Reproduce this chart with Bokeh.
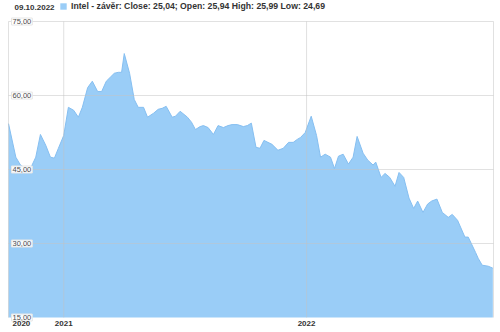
import pandas as pd
from bokeh.plotting import figure
from bokeh.models import ColumnDataSource, Range1d, Label, Legend, LegendItem
from bokeh.embed import file_html
from bokeh.resources import INLINE

# ---- data ----
dates = [
    "2020-10-10", "2020-10-21", "2020-10-28", "2020-11-05", "2020-11-12", "2020-11-20",
    "2020-11-27", "2020-12-05", "2020-12-12", "2020-12-18", "2020-12-24", "2021-01-01",
    "2021-01-08", "2021-01-16", "2021-01-23", "2021-01-29", "2021-02-06", "2021-02-13",
    "2021-02-21", "2021-02-27", "2021-03-06", "2021-03-12", "2021-03-18", "2021-03-24",
    "2021-03-29", "2021-04-02", "2021-04-10", "2021-04-17", "2021-04-23", "2021-05-01",
    "2021-05-07", "2021-05-16", "2021-05-23", "2021-05-29", "2021-06-04", "2021-06-13",
    "2021-06-18", "2021-06-25", "2021-07-06", "2021-07-12", "2021-07-18", "2021-07-25",
    "2021-07-30", "2021-08-06", "2021-08-14", "2021-08-21", "2021-08-29", "2021-09-05",
    "2021-09-11", "2021-09-19", "2021-09-28", "2021-10-04", "2021-10-10", "2021-10-17",
    "2021-10-23", "2021-10-29", "2021-11-04", "2021-11-10", "2021-11-19", "2021-11-27",
    "2021-12-05", "2021-12-12", "2021-12-18", "2021-12-23", "2021-12-30", "2022-01-08",
    "2022-01-16", "2022-01-22", "2022-01-29", "2022-02-06", "2022-02-12", "2022-02-18",
    "2022-02-25", "2022-03-05", "2022-03-12", "2022-03-18", "2022-03-27", "2022-04-03",
    "2022-04-11", "2022-04-15", "2022-04-23", "2022-04-29", "2022-05-06", "2022-05-14",
    "2022-05-20", "2022-05-27", "2022-06-04", "2022-06-11", "2022-06-17", "2022-06-25",
    "2022-07-02", "2022-07-08", "2022-07-16", "2022-07-24", "2022-08-02", "2022-08-08",
    "2022-08-16", "2022-08-27", "2022-09-01", "2022-09-12", "2022-09-16", "2022-09-22",
    "2022-10-01", "2022-10-08",
]
close = [
    54.3, 47.5, 45.9, 45.2, 45.2, 47.5,
    52.1, 49.9, 47.5, 47.3, 49.3, 51.9,
    57.6, 57.0, 55.6, 57.6, 61.6, 62.9,
    60.8, 60.8, 62.9, 63.7, 64.5, 64.7,
    64.7, 68.5, 64.5, 59.2, 57.6, 57.6,
    55.6, 56.4, 57.2, 57.4, 57.8, 55.6,
    55.8, 56.8, 55.6, 54.6, 53.1, 53.7,
    53.9, 53.5, 52.1, 53.9, 53.5, 53.9,
    54.1, 54.1, 53.7, 53.9, 54.4, 49.5,
    49.3, 50.9, 50.5, 50.1, 48.9, 49.3,
    50.5, 50.5, 51.1, 51.5, 52.5, 55.8,
    51.9, 47.5, 48.1, 47.5, 45.2, 47.7,
    48.1, 46.1, 47.5, 51.7, 48.3, 46.9,
    45.9, 46.5, 43.4, 44.2, 43.4, 41.6,
    44.4, 43.4, 39.2, 37.1, 38.6, 36.3,
    38.0, 38.6, 39.0, 36.3, 35.3, 35.9,
    34.7, 31.3, 31.3, 28.2, 27.0, 25.6,
    25.4, 25.0,
]
y_ticks = [15, 30, 45, 60, 75]
y_tick_labels = ["15,00", "30,00", "45,00", "60,00", "75,00"]
x_tick_dates = ["2020-10-10", "2021-01-01", "2022-01-01"]
x_tick_labels = ["2020", "2021", "2022"]
date_title = "09.10.2022"
legend_text = "Intel - závěr: Close: 25,04; Open: 25,94 High: 25,99 Low: 24,69"
range_start, range_end = "2020-10-10", "2022-10-09"

# ---- layout (pixels) ----
W, H = 500, 332
PL, PR, PT, PB = 8, 493, 21, 317   # plot-area box inside the canvas


def ms(d):
    return pd.Timestamp(d).value / 1e6


a, b = ms(range_start), ms(range_end)
xpp = (b - a) / (PR - PL)
ypp = (y_ticks[-1] - y_ticks[0]) / (PB - PT)
x_range = Range1d(a - PL * xpp, b + (W - PR) * xpp)
y_range = Range1d(y_ticks[0] - (H - PB) * ypp, y_ticks[-1] + PT * ypp)

FILL = "#9ACDF7"
LINE = "#86BFF1"
GRID = "#c4c4c4"
FONT = "Liberation Sans"

src = ColumnDataSource(dict(date=pd.to_datetime(dates), close=close,
                            base=[y_ticks[0]] * len(close)))

p = figure(width=W, height=H, x_axis_type="datetime", x_range=x_range, y_range=y_range,
           output_backend="svg", toolbar_location=None, min_border=0)
p.xaxis.visible = False
p.yaxis.visible = False
p.grid.visible = False
p.outline_line_color = None
p.background_fill_color = "white"
p.border_fill_color = "white"

area = p.varea(x="date", y1="base", y2="close", source=src, fill_color=FILL)
p.line(x="date", y="close", source=src, line_color=LINE, line_width=1)

# grid lines (drawn above the area, semi-transparent)
hy = y_ticks[1:]
p.segment(x0=[a] * len(hy), x1=[b] * len(hy), y0=hy, y1=hy,
          line_color=GRID, line_alpha=0.5, line_width=1)
vx = [a, ms(x_tick_dates[1]), ms(x_tick_dates[2]), b]
p.segment(x0=vx, x1=vx, y0=[y_ticks[0]] * len(vx), y1=[y_ticks[-1]] * len(vx),
          line_color=GRID, line_alpha=0.5, line_width=1)

# y labels inside the plot
for v, t in zip(y_ticks, y_tick_labels):
    p.add_layout(Label(x=a, y=v, x_offset=3, text=t,
                       text_baseline="middle", text_align="left",
                       text_font=FONT, text_font_size="7.5px", text_color="#4d4d4d",
                       background_fill_color="white", background_fill_alpha=0.9,
                       border_line_color="#e6e6e6", padding=1))

# x labels below the plot
for i, (d, t) in enumerate(zip(x_tick_dates, x_tick_labels)):
    p.add_layout(Label(x=ms(d), y=y_ticks[0], y_offset=-6, x_offset=4 if i == 0 else 0,
                       text=t, text_baseline="middle",
                       text_align="left" if i == 0 else "center",
                       text_font=FONT, text_font_size="8px", text_font_style="bold",
                       text_color="#333333"))

# date title
p.add_layout(Label(x=a, y=y_ticks[-1], x_offset=6, y_offset=14,
                   text=date_title, text_baseline="middle", text_align="left",
                   text_font=FONT, text_font_size="8px", text_font_style="bold",
                   text_color="#333333"))

legend = Legend(items=[LegendItem(label=legend_text, renderers=[area])],
                location=(59, H - 11), orientation="horizontal",
                glyph_width=8, glyph_height=8, label_height=8, label_standoff=4,
                padding=0, margin=0, spacing=0,
                label_text_font=FONT, label_text_font_size="8.7px",
                label_text_font_style="bold", label_text_color="#333333",
                border_line_alpha=0, background_fill_alpha=0)
p.add_layout(legend, "center")

open("out.html", "w").write(file_html(p, INLINE))
